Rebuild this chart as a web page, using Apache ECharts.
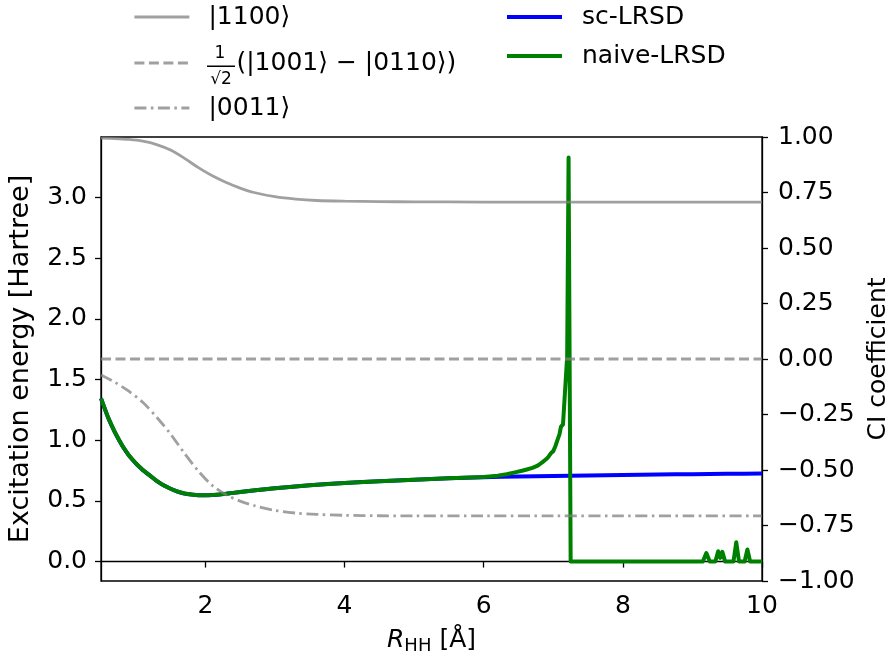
<!DOCTYPE html>
<html>
<head>
<meta charset="utf-8">
<script src="https://cdn.jsdelivr.net/npm/echarts@6/dist/echarts.min.js"></script>
<style>
html,body{margin:0;padding:0;background:#fff}
#chart{width:891px;height:658px}
</style>
</head>
<body>
<div id="chart"></div>
<script>
// CI coefficients (right axis)
var rCI   = [0.5,0.7,0.9,1.1,1.3,1.5,1.7,1.9,2.1,2.3,2.5,2.7,3.0,3.3,3.6,4.0,4.5,5.0,6.0,7.0,8.0,9.0,10.0];
var c1100 = [0.995,0.993,0.989,0.981,0.966,0.941,0.904,0.862,0.825,0.795,0.770,0.750,0.731,0.720,0.714,0.711,0.709,0.708,0.707,0.707,0.707,0.707,0.707];
var cMix  = [0,0,0,0,0,0,0,0,0,0,0,0,0,0,0,0,0,0,0,0,0,0,0];
var c0011 = [-0.072,-0.105,-0.145,-0.195,-0.262,-0.338,-0.425,-0.505,-0.570,-0.612,-0.640,-0.660,-0.682,-0.694,-0.700,-0.704,-0.706,-0.707,-0.707,-0.707,-0.707,-0.707,-0.707];

// excitation energies (left axis)
var rSc = [0.5,0.6,0.7,0.8,0.9,1.0,1.1,1.2,1.3,1.4,1.5,1.6,1.7,1.8,1.9,2.0,2.1,2.2,2.3,2.4,2.5,2.75,3.0,3.5,4.0,4.5,5.0,5.5,6.0,6.5,7.0,7.5,8.0,8.5,9.0,9.5,10.0];
var eSc = [1.345,1.19,1.065,0.96,0.875,0.81,0.755,0.71,0.665,0.628,0.600,0.577,0.561,0.553,0.547,0.546,0.548,0.553,0.559,0.566,0.573,0.590,0.605,0.628,0.648,0.662,0.675,0.686,0.695,0.701,0.706,0.710,0.714,0.717,0.720,0.723,0.726];

var rNaive = [0.5,0.6,0.7,0.8,0.9,1.0,1.1,1.2,1.3,1.4,1.5,1.6,1.7,1.8,1.9,2.0,2.1,2.2,2.3,2.4,2.5,2.75,3.0,3.5,4.0,4.5,5.0,5.5,6.0,
  6.2,6.33,6.45,6.55,6.62,6.7,6.76,6.8,6.85,6.9,6.93,6.97,7.0,7.03,7.06,7.09,7.11,7.14,7.17,7.2,7.22,7.25,
  9.15,9.2,9.25,9.33,9.37,9.4,9.43,9.47,9.59,9.63,9.67,9.75,9.79,9.83,10.0];
var eNaive = [1.345,1.19,1.065,0.96,0.875,0.81,0.755,0.71,0.665,0.628,0.600,0.577,0.561,0.553,0.547,0.546,0.548,0.553,0.559,0.566,0.573,0.590,0.605,0.628,0.648,0.662,0.675,0.686,0.696,
  0.708,0.720,0.735,0.748,0.759,0.772,0.786,0.800,0.822,0.845,0.863,0.895,0.910,0.950,1.000,1.050,1.110,1.130,1.410,1.690,3.330,0.0,
  0.0,0.07,0.0,0.0,0.085,0.03,0.08,0.0,0.0,0.16,0.0,0.0,0.10,0.0,0.0];

var xTicks = [2,4,6,8,10];
var yTicks = [0,0.5,1.0,1.5,2.0,2.5,3.0];

function pairs(xs, ys) {
  return xs.map(function (x, i) { return [x, ys[i]]; });
}

var FONT = 'DejaVu Sans';
var FS = 25;
var GRAY = 'rgba(128,128,128,0.75)';
var axisLine = { lineStyle: { color: '#000', width: 1.3 } };

var chart = echarts.init(document.getElementById('chart'));

function legendRow(name, left, top, width, type, color, extra) {
  return {
    data: [name], left: left, top: top, orient: 'vertical', padding: 0,
    itemWidth: 55, itemHeight: 30, selectedMode: false,
    itemStyle: { opacity: 0 },
    lineStyle: { width: width, type: type, color: color },
    textStyle: { fontFamily: FONT, fontSize: FS, color: '#000', lineHeight: 30,
      rich: { sp: { width: extra } } },
    formatter: function (n) {
      if (n.indexOf('1001') >= 0) return '{sp|}(|1001\u27e9 \u2212 |0110\u27e9)';
      return '{sp|}' + n;
    }
  };
}

var nameMix = '1/\u221a2(|1001\u27e9 \u2212 |0110\u27e9)';

chart.setOption({
  animation: false,
  textStyle: { fontFamily: FONT },
  grid: { left: 101, right: 129, top: 137, bottom: 77, show: true, borderColor: '#000', borderWidth: 1.3,
    outerBoundsMode: 'none', containLabel: false },
  legend: [
    legendRow('|1100\u27e9', 133, 2, 2.8, 'solid', GRAY, 14),
    legendRow(nameMix, 133, 48, 2.8, [10, 4.5], GRAY, 42),
    legendRow('|0011\u27e9', 133, 93, 2.8, [12, 4.5, 2.5, 4.5], GRAY, 14),
    legendRow('sc-LRSD', 505, 2, 4, 'solid', '#0000ff', 15),
    legendRow('naive-LRSD', 505, 41, 4, 'solid', '#008000', 15)
  ],
  graphic: [
    { type: 'text', x: 220, y: 54, z: 100,
      style: { text: '1', font: '17px "DejaVu Sans"', fill: '#000', align: 'center', verticalAlign: 'middle' } },
    { type: 'rect', z: 100, shape: { x: 207, y: 65.5, width: 28, height: 1.5 }, style: { fill: '#000' } },
    { type: 'text', x: 221, y: 80, z: 100,
      style: { text: '\u221a2', font: '17px "DejaVu Sans"', fill: '#000', align: 'center', verticalAlign: 'middle' } }
  ],
  xAxis: {
    type: 'value', min: 0.5, max: 10,
    name: '{i|R}{s|HH}{n| [\u00c5]}', nameLocation: 'middle', nameGap: 44,
    nameTextStyle: { rich: {
      i: { fontFamily: FONT, fontSize: FS, fontStyle: 'italic', color: '#000', lineHeight: 30, verticalAlign: 'middle' },
      s: { fontFamily: FONT, fontSize: 18, color: '#000', lineHeight: 30, verticalAlign: 'bottom', padding: [10, 0, 0, 0] },
      n: { fontFamily: FONT, fontSize: FS, color: '#000', lineHeight: 30, verticalAlign: 'middle' }
    } },
    axisLine: axisLine,
    axisTick: { customValues: xTicks, length: 6, lineStyle: { color: '#000', width: 1.3 } },
    axisLabel: { customValues: xTicks, fontSize: FS, color: '#000', margin: 13, fontFamily: FONT },
    splitLine: { show: false }
  },
  yAxis: [
    {
      type: 'value', position: 'left', min: -0.16, max: 3.498,
      name: 'Excitation energy [Hartree]', nameLocation: 'middle', nameGap: 67, nameRotate: 90,
      nameTextStyle: { fontFamily: FONT, fontSize: 27, color: '#000' },
      axisLine: axisLine,
      axisTick: { customValues: yTicks, length: 6, lineStyle: { color: '#000', width: 1.3 } },
      axisLabel: { customValues: yTicks, fontSize: FS, color: '#000', margin: 14, fontFamily: FONT,
        formatter: function (v) { return v.toFixed(1); } },
      splitLine: { show: false }
    },
    {
      type: 'value', position: 'right', min: -1, max: 1, interval: 0.25,
      name: 'CI coefficient', nameLocation: 'middle', nameGap: 103, nameRotate: 90,
      nameTextStyle: { fontFamily: FONT, fontSize: FS, color: '#000' },
      axisLine: axisLine,
      axisTick: { length: 6, lineStyle: { color: '#000', width: 1.3 } },
      axisLabel: { fontSize: FS, color: '#000', margin: 16, fontFamily: FONT,
        formatter: function (v) { return (v < 0 ? '\u2212' : '') + Math.abs(v).toFixed(2); } },
      splitLine: { show: false }
    }
  ],
  series: [
    { name: 'sc-LRSD', type: 'line', yAxisIndex: 0, data: pairs(rSc, eSc), symbol: 'none', smooth: 0.2,
      lineStyle: { color: '#0000ff', width: 4 }, itemStyle: { color: '#0000ff' } },
    { name: 'naive-LRSD', type: 'line', yAxisIndex: 0, data: pairs(rNaive, eNaive), symbol: 'none',
      lineStyle: { color: '#008000', width: 4, join: 'round' }, itemStyle: { color: '#008000' } },
    { name: '|1100\u27e9', type: 'line', yAxisIndex: 1, data: pairs(rCI, c1100), symbol: 'none', smooth: 0.3,
      lineStyle: { color: GRAY, width: 2.8 }, itemStyle: { color: GRAY } },
    { name: nameMix, type: 'line', yAxisIndex: 1, data: pairs(rCI, cMix), symbol: 'none',
      lineStyle: { color: GRAY, width: 2.8, type: [10, 4.5] }, itemStyle: { color: GRAY } },
    { name: '|0011\u27e9', type: 'line', yAxisIndex: 1, data: pairs(rCI, c0011), symbol: 'none', smooth: 0.3,
      lineStyle: { color: GRAY, width: 2.8, type: [12, 4.5, 2.5, 4.5] }, itemStyle: { color: GRAY } }
  ]
});
</script>
</body>
</html>
